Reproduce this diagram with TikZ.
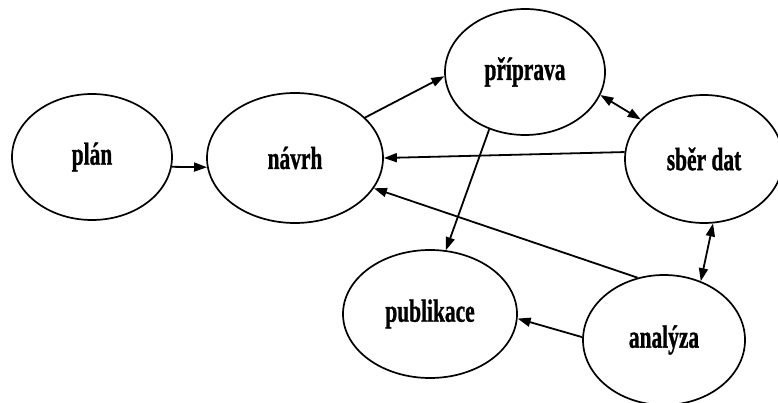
\documentclass[tikz,border=0pt]{standalone}
\usepackage{fontspec}
\setmainfont{Liberation Serif}
\newfontfamily\tucne[FakeBold=1.2]{Liberation Serif}
\usepackage{graphicx}
\usetikzlibrary{shapes.geometric, arrows.meta}

% narrow bold labels
\newcommand{\uzkytext}[1]{\scalebox{0.67}[1]{#1}}

\begin{document}
\begin{tikzpicture}[x=1pt, y=-1pt,
    faze/.style={ellipse, draw, line width=1.7pt, inner sep=0pt,
        font=\fontsize{32}{36}\selectfont\tucne\bfseries},
    sipka/.style={-{Triangle[length=13pt,width=9pt]}, line width=1.8pt},
    dvojsipka/.style={{Triangle[length=13pt,width=9pt]}-{Triangle[length=13pt,width=9pt]}, line width=1.8pt}]

    \useasboundingbox (0,0) rectangle (778,403);

    \node[faze, minimum width=160pt, minimum height=126pt] (plan) at (92,157) {\uzkytext{plán}};
    \node[faze, minimum width=176pt, minimum height=130pt] (navrh) at (295,158) {\uzkytext{návrh}};
    \node[faze, minimum width=160pt, minimum height=126pt] (priprava) at (525,72) {\uzkytext{příprava}};
    \node[faze, minimum width=158pt, minimum height=128pt] (sber) at (704,159) {\uzkytext{sběr dat}};
    \node[faze, minimum width=174pt, minimum height=128pt] (publikace) at (430,314) {\uzkytext{publikace}};
    \node[faze, minimum width=162pt, minimum height=130pt] (analyza) at (664,340) {\uzkytext{analýza}};

    \draw
        (plan.-7) edge[sipka] (navrh.186)
        (navrh.30) edge[sipka] (priprava.183)
        (priprava.-17) edge[dvojsipka] (sber.148)
        (sber.175) edge[sipka] (navrh.0)
        (analyza.113) edge[sipka] (navrh.-21)
        (priprava.238) edge[sipka] (publikace.76)
        (sber.-82) edge[dvojsipka] (analyza.58)
        (analyza.178) edge[sipka] (publikace.-3)
       ;
\end{tikzpicture}
\end{document}
